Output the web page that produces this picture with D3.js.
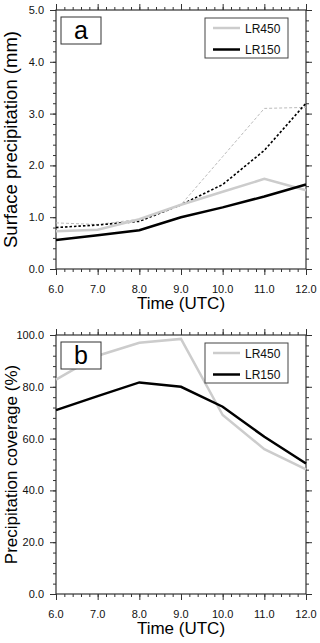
<!DOCTYPE html>
<html>
<head>
<meta charset="utf-8">
<script src="https://cdn.jsdelivr.net/npm/d3@7"></script>
<style>
  body { margin: 0; background: #fff; }
  svg { display: block; font-family: "Liberation Sans", Arial, sans-serif; }
</style>
</head>
<body>
<div id="chart"></div>
<script>
// Data
const times = [6, 7, 8, 9, 10, 11, 12];
const xTickLabels = ["6.0", "7.0", "8.0", "9.0", "10.0", "11.0", "12.0"];

// panel a: surface precipitation (mm)
const precipLR450 = [0.73, 0.76, 0.96, 1.24, 1.49, 1.74, 1.52];
const precipLR150 = [0.56, 0.65, 0.75, 1.00, 1.19, 1.40, 1.63];
const precipLR450Dash = [0.89, 0.86, 0.96, 1.24, 2.17, 3.10, 3.12];
const precipLR150Dash = [0.80, 0.85, 0.92, 1.24, 1.63, 2.29, 3.20];
const precipTicks = [0, 1, 2, 3, 4, 5];

// panel b: precipitation coverage (%)
const coverLR450 = [82.8, 92.0, 97.0, 98.5, 69.1, 55.9, 48.1];
const coverLR150 = [71.0, 76.4, 81.7, 80.0, 72.3, 60.7, 50.4];
const coverTicks = [0, 20, 40, 60, 80, 100];

const legendNames = ["LR450", "LR150"];
const legendColors = ["#cccccc", "#000000"];

const W = 320, H = 643;
const svg = d3.select("#chart").append("svg")
    .attr("width", W)
    .attr("height", H);

function drawPanel(opt) {
    const g = svg.append("g");
    const x = d3.scaleLinear().domain([6, 12]).range([56, 306]);
    const y = d3.scaleLinear().domain(opt.yDomain).range([opt.bottom, opt.top]);

    // minor ticks
    const xMinor = d3.range(6, 12.001, 0.2);
    const yStep = (opt.yDomain[1] - opt.yDomain[0]) / 25;
    const yMinor = d3.range(opt.yDomain[0], opt.yDomain[1] + yStep / 2, yStep);

    const tickColor = "#333";
    const axes = [
        { ax: d3.axisBottom(x), pos: `translate(0,${opt.bottom})`, vals: times, minor: xMinor },
        { ax: d3.axisTop(x), pos: `translate(0,${opt.top})`, vals: times, minor: xMinor },
        { ax: d3.axisLeft(y), pos: `translate(56,0)`, vals: opt.yTicks, minor: yMinor },
        { ax: d3.axisRight(y), pos: `translate(306,0)`, vals: opt.yTicks, minor: yMinor }
    ];
    axes.forEach(a => {
        g.append("g").attr("transform", a.pos)
            .call(a.ax.tickValues(a.minor).tickSize(3).tickFormat(""))
            .call(s => s.select(".domain").remove())
            .selectAll("line").attr("stroke", tickColor);
        g.append("g").attr("transform", a.pos)
            .call(a.ax.tickValues(a.vals).tickSize(6).tickFormat(""))
            .call(s => s.select(".domain").remove())
            .selectAll("line").attr("stroke", tickColor);
    });

    // frame
    g.append("rect")
        .attr("x", 56).attr("y", opt.top)
        .attr("width", 250).attr("height", opt.bottom - opt.top)
        .attr("fill", "none").attr("stroke", tickColor).attr("stroke-width", 1.2);

    // tick labels
    g.selectAll(".xl").data(times).enter().append("text")
        .attr("x", d => x(d))
        .attr("y", opt.bottom + 24)
        .attr("text-anchor", "middle")
        .attr("font-size", 11)
        .attr("fill", "#111")
        .text((d, i) => xTickLabels[i]);
    g.selectAll(".yl").data(opt.yTicks).enter().append("text")
        .attr("x", 44)
        .attr("y", d => y(d) + 4)
        .attr("text-anchor", "end")
        .attr("font-size", 11)
        .attr("fill", "#111")
        .text(d => d.toFixed(1));

    // axis titles
    g.append("text")
        .attr("x", 181).attr("y", opt.bottom + 40)
        .attr("text-anchor", "middle")
        .attr("font-size", 17)
        .text("Time (UTC)");
    g.append("text")
        .attr("transform", `translate(17,${(opt.top + opt.bottom) / 2}) rotate(-90)`)
        .attr("text-anchor", "middle")
        .attr("font-size", opt.yTitleSize)
        .text(opt.yTitle);

    // lines
    const line = vals => d3.line()
        .x((d, i) => x(times[i]))
        .y(d => y(d))(vals);
    opt.series.forEach(s => {
        g.append("path")
            .attr("d", line(s.values))
            .attr("fill", "none")
            .attr("stroke", s.color)
            .attr("stroke-width", s.width)
            .attr("stroke-dasharray", s.dash || null);
    });

    // panel letter box
    g.append("rect")
        .attr("x", 61).attr("y", opt.top + 7)
        .attr("width", 40).attr("height", 27)
        .attr("fill", "#fff").attr("stroke", "#333").attr("stroke-width", 1);
    g.append("text")
        .attr("x", 81).attr("y", opt.top + 29)
        .attr("text-anchor", "middle")
        .attr("font-size", 25)
        .text(opt.letter);

    // legend
    const lg = g.append("g").attr("transform", `translate(205,${opt.top + 8})`);
    lg.append("rect")
        .attr("width", 83).attr("height", 40)
        .attr("fill", "#fff").attr("stroke", "#444").attr("stroke-width", 1);
    legendNames.forEach((n, i) => {
        const yy = 10 + i * 21.5;
        lg.append("line")
            .attr("x1", 8).attr("x2", 35)
            .attr("y1", yy).attr("y2", yy)
            .attr("stroke", legendColors[i]).attr("stroke-width", 2.5);
        lg.append("text")
            .attr("x", 40).attr("y", yy + 4.5)
            .attr("font-size", 12)
            .attr("fill", "#111")
            .text(n);
    });
}

drawPanel({
    top: 10, bottom: 269,
    yDomain: [0, 5], yTicks: precipTicks,
    yTitle: "Surface precipitation (mm)", yTitleSize: 18.5,
    letter: "a",
    series: [
        { values: precipLR450Dash, color: "#bbbbbb", width: 1, dash: "3,2" },
        { values: precipLR150Dash, color: "#000", width: 1.6, dash: "2.5,2" },
        { values: precipLR450, color: legendColors[0], width: 2.5 },
        { values: precipLR150, color: legendColors[1], width: 2.5 }
    ]
});

drawPanel({
    top: 335, bottom: 594,
    yDomain: [0, 100], yTicks: coverTicks,
    yTitle: "Precipitation coverage (%)", yTitleSize: 17,
    letter: "b",
    series: [
        { values: coverLR450, color: legendColors[0], width: 2.5 },
        { values: coverLR150, color: legendColors[1], width: 2.5 }
    ]
});
</script>
</body>
</html>
